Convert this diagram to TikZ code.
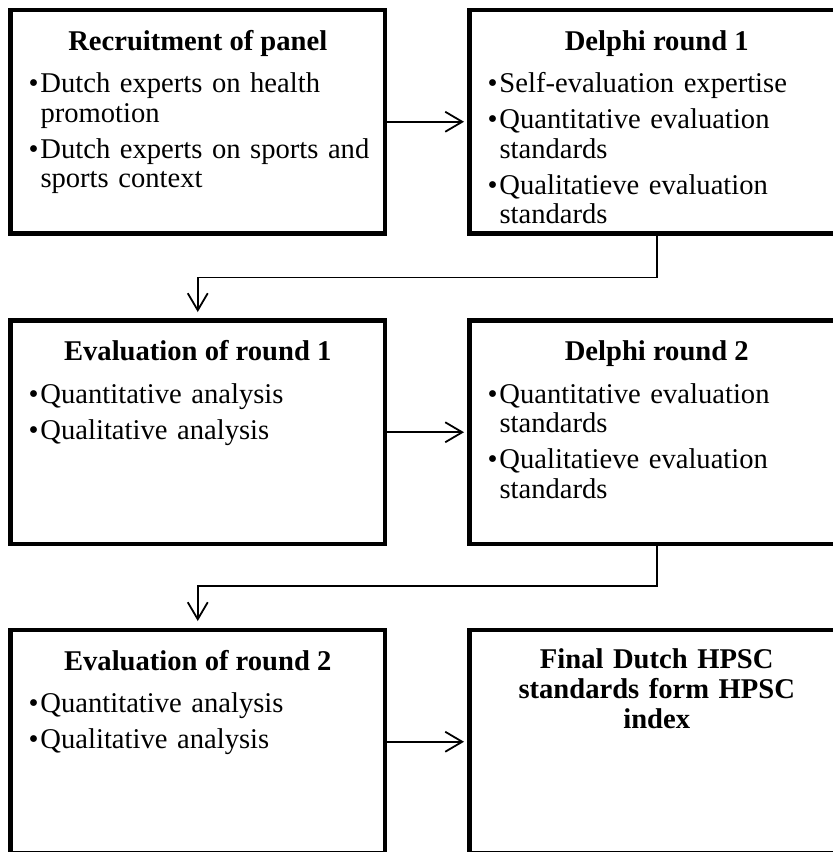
\documentclass[tikz,border=0pt]{standalone}
\usepackage{fontspec}
\setmainfont{Liberation Serif}
\usetikzlibrary{arrows.meta}
\newcommand\bitem[1]{\noindent\hangindent=12pt\hangafter=1\makebox[12pt][l]{\textbullet}#1\par}
\newcommand\bnext{\vskip6.5pt}
\newcommand\brk{\hfil\break}
\begin{document}
\begin{tikzpicture}[x=1pt,y=1pt,
 box/.style={draw, line width=4.5pt, rectangle, minimum width=374.5pt, minimum height=223.5pt, inner sep=0pt, outer sep=0pt, anchor=north west},
 ttl/.style={inner sep=0pt, outer sep=0pt, font=\fontsize{28.6}{30}\selectfont\bfseries, anchor=base},
 ttlw/.style={inner sep=0pt, outer sep=0pt, text width=340pt, align=center, font=\fontsize{28.6}{30}\selectfont\bfseries, anchor=base},
 body/.style={inner sep=0pt, outer sep=0pt, text width=350pt, align=left, anchor=base west, font=\fontsize{28.6}{29.5}\selectfont},
 conn/.style={line width=1.8pt, -{Straight Barb[length=17pt,width=20pt]}}]
\useasboundingbox (0,0) rectangle (833,-852);
\clip (0,0) rectangle (833,-852);
\fill[white] (0,0) rectangle (833,-852);

\node[box] (b1) at (10.5,-10) {};
\node[box] (b2) at (469.5,-10) {};
\node[box] (b3) at (10.5,-320.5) {};
\node[box] (b4) at (469.5,-320.5) {};
\node[box] (b5) at (10.5,-630) {};
\node[box] (b6) at (469.5,-630) {};

\node[ttl] (t1) at ([yshift=-40pt]b1.north) {Recruitment of panel};
\node[ttl] (t2) at ([yshift=-40pt]b2.north) {Delphi round 1};
\node[ttl] (t3) at ([yshift=-40pt]b3.north) {Evaluation of round 1};
\node[ttl] (t4) at ([yshift=-40pt]b4.north) {Delphi round 2};
\node[ttl] (t5) at ([yshift=-40pt]b5.north) {Evaluation of round 2};
\node[ttlw] (t6) at ([yshift=-38pt]b6.north) {Final Dutch HPSC\\standards form HPSC\\index};

\node[body] (p1) at ([xshift=18pt,yshift=-82.5pt]b1.north west) {\bitem{Dutch experts on health\brk promotion}\bnext\bitem{Dutch experts on sports and\brk sports context}};
\node[body] (p2) at ([xshift=18pt,yshift=-82.5pt]b2.north west) {\bitem{Self-evaluation expertise}\bnext\bitem{Quantitative evaluation\brk standards}\bnext\bitem{Qualitatieve evaluation\brk standards}};
\node[body] (p3) at ([xshift=18pt,yshift=-82.5pt]b3.north west) {\bitem{Quantitative analysis}\bnext\bitem{Qualitative analysis}};
\node[body] (p4) at ([xshift=18pt,yshift=-82.5pt]b4.north west) {\bitem{Quantitative evaluation\brk standards}\bnext\bitem{Qualitatieve evaluation\brk standards}};
\node[body] (p5) at ([xshift=18pt,yshift=-82.5pt]b5.north west) {\bitem{Quantitative analysis}\bnext\bitem{Qualitative analysis}};

\draw[conn, shorten >=5.5pt] (b1.east) -- (b2.west);
\draw[conn, shorten >=8.5pt] (b2.south) -- ++(0,-44) -| (b3.north);
\draw[conn, shorten >=5.5pt] (b3.east) -- (b4.west);
\draw[conn, shorten >=9pt] (b4.south) -- ++(0,-42) -| (b5.north);
\draw[conn, shorten >=5.5pt] (b5.east) -- (b6.west);
\end{tikzpicture}
\end{document}
